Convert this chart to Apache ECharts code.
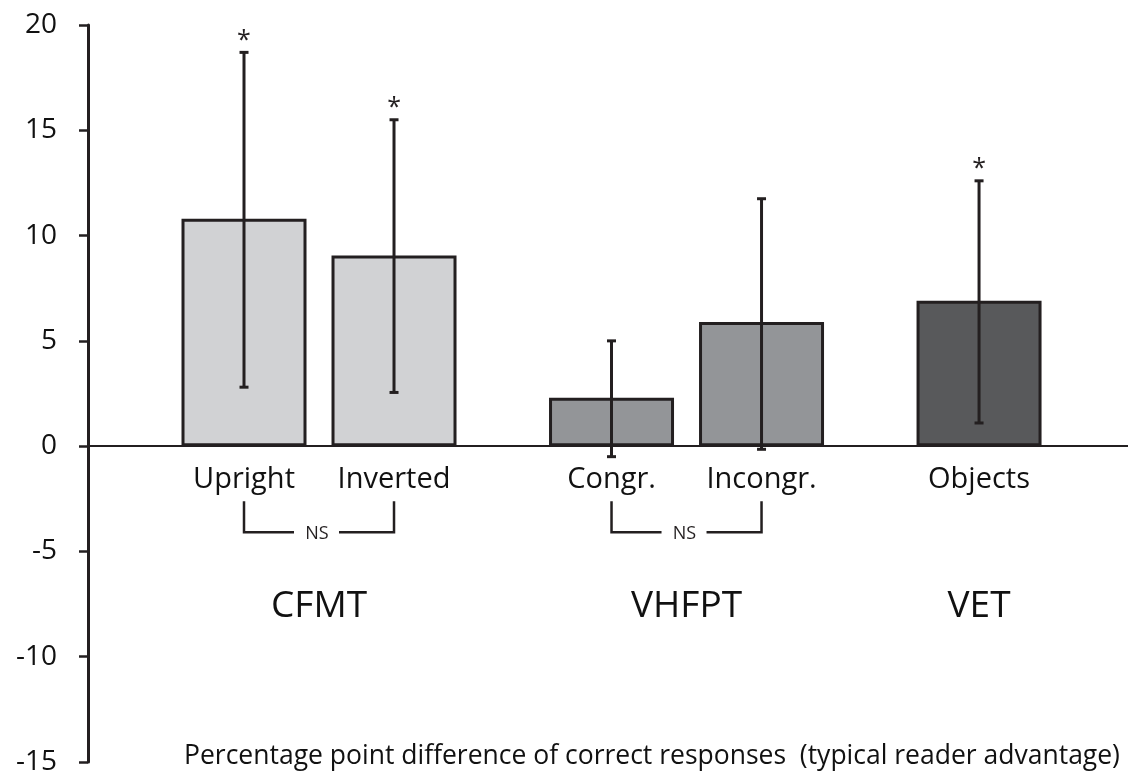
<!DOCTYPE html>
<html>
<head>
<meta charset="utf-8">
<script src="https://cdn.jsdelivr.net/npm/echarts@6/dist/echarts.min.js"></script>
<style>
  html, body { margin: 0; padding: 0; background: #fff; }
  #chart { width: 1128px; height: 776px; }
</style>
</head>
<body>
<div id="chart"></div>
<script>
// data
var conditions = ['Upright', 'Inverted', 'Congr.', 'Incongr.', 'Objects'];
var groupOf = [0, 0, 1, 1, 2];
var groups = ['CFMT', 'VHFPT', 'VET'];
var means = [10.8, 9.05, 2.3, 5.9, 6.9];
var errLow = [2.8, 2.55, -0.5, -0.15, 1.1];
var errHigh = [18.7, 15.5, 5.0, 11.75, 12.6];
var significant = [1, 1, 0, 0, 1];
var nsPairs = [[0, 1], [2, 3]];
var barColors = ['#d1d2d4', '#d1d2d4', '#939598', '#939598', '#58595b'];

var FONT = '"Open Sans", "DejaVu Sans", sans-serif';
var INK = '#231f20';

// x position of every bar: one slot per condition, extra space between tests
var xPos = conditions.map(function (c, i) {
  return 1.04 + i + groupOf[i] * 0.45;
});

var chart = echarts.init(document.getElementById('chart'));

var barData = means.map(function (v, i) {
  return {
    value: [xPos[i], v],
    itemStyle: { color: barColors[i] }
  };
});

var errData = conditions.map(function (c, i) {
  return [xPos[i], errLow[i], errHigh[i], significant[i]];
});

var nsData = nsPairs.map(function (p) {
  return [xPos[p[0]], xPos[p[1]]];
});

var groupData = groups.map(function (g, gi) {
  var xs = xPos.filter(function (x, i) { return groupOf[i] === gi; });
  var sum = 0;
  xs.forEach(function (x) { sum += x; });
  return [sum / xs.length, gi];
});

var option = {
  backgroundColor: '#fff',
  animation: false,
  title: {
    text: 'Percentage point difference of correct responses  (typical reader advantage)',
    left: 179,
    top: 738,
    textStyle: { fontFamily: FONT, fontSize: 26.5, fontWeight: 'normal', color: '#111' }
  },
  grid: { left: 88, right: 0, top: 25, bottom: 10 },
  xAxis: {
    type: 'value',
    min: 0,
    max: 6.933,
    axisLine: { show: true, onZero: true, lineStyle: { color: INK, width: 2 } },
    axisTick: { show: false },
    axisLabel: { show: false },
    splitLine: { show: false }
  },
  yAxis: {
    type: 'value',
    min: -15,
    max: 20,
    interval: 5,
    axisLine: { show: true, lineStyle: { color: INK, width: 3 } },
    axisTick: { show: true, inside: false, length: 9, lineStyle: { color: INK, width: 2.5 } },
    axisLabel: { margin: 31, fontFamily: FONT, fontSize: 28, color: '#111' },
    splitLine: { show: false }
  },
  series: [
    {
      type: 'bar',
      barWidth: 125,
      data: barData,
      itemStyle: { borderColor: INK, borderWidth: 3 },
      label: {
        show: true,
        position: 'bottom',
        distance: 19,
        fontFamily: FONT,
        fontSize: 29,
        color: '#111',
        formatter: function (p) { return conditions[p.dataIndex]; }
      },
      z: 2
    },
    {
      // error bars and significance stars
      type: 'custom',
      data: errData,
      z: 5,
      renderItem: function (params, api) {
        var x = api.value(0);
        var lo = api.coord([x, api.value(1)]);
        var hi = api.coord([x, api.value(2)]);
        var cap = 4.5;
        var st = { stroke: INK, lineWidth: 3 };
        var kids = [
          { type: 'line', shape: { x1: hi[0], y1: hi[1], x2: lo[0], y2: lo[1] }, style: st },
          { type: 'line', shape: { x1: hi[0] - cap, y1: hi[1], x2: hi[0] + cap, y2: hi[1] }, style: st },
          { type: 'line', shape: { x1: lo[0] - cap, y1: lo[1], x2: lo[0] + cap, y2: lo[1] }, style: st }
        ];
        if (api.value(3)) {
          kids.push({
            type: 'text',
            style: {
              text: '*', x: hi[0], y: hi[1] + 1,
              align: 'center', verticalAlign: 'bottom',
              font: '25px ' + FONT, fill: INK
            }
          });
        }
        return { type: 'group', children: kids };
      }
    },
    {
      // NS brackets under the labels
      type: 'custom',
      data: nsData,
      z: 5,
      renderItem: function (params, api) {
        var a = api.coord([api.value(0), 0]);
        var b = api.coord([api.value(1), 0]);
        var top = a[1] + 55, bot = a[1] + 86;
        var mid = (a[0] + b[0]) / 2;
        var st = { stroke: INK, lineWidth: 2.5, fill: null };
        return {
          type: 'group',
          children: [
            { type: 'polyline', shape: { points: [[a[0], top], [a[0], bot], [mid - 25, bot]] }, style: st },
            { type: 'polyline', shape: { points: [[mid + 20, bot], [b[0], bot], [b[0], top]] }, style: st },
            {
              type: 'text',
              style: {
                text: 'NS', x: mid - 2, y: bot + 2,
                align: 'center', verticalAlign: 'middle',
                font: '18px ' + FONT, fill: INK
              }
            }
          ]
        };
      }
    },
    {
      // test names
      type: 'custom',
      data: groupData,
      z: 5,
      renderItem: function (params, api) {
        var p = api.coord([api.value(0), 0]);
        return {
          type: 'text',
          style: {
            text: groups[api.value(1)], x: p[0], y: p[1] + 160,
            align: 'center', verticalAlign: 'middle',
            font: '37px ' + FONT, fill: '#111'
          }
        };
      }
    }
  ]
};

chart.setOption(option);
</script>
</body>
</html>
